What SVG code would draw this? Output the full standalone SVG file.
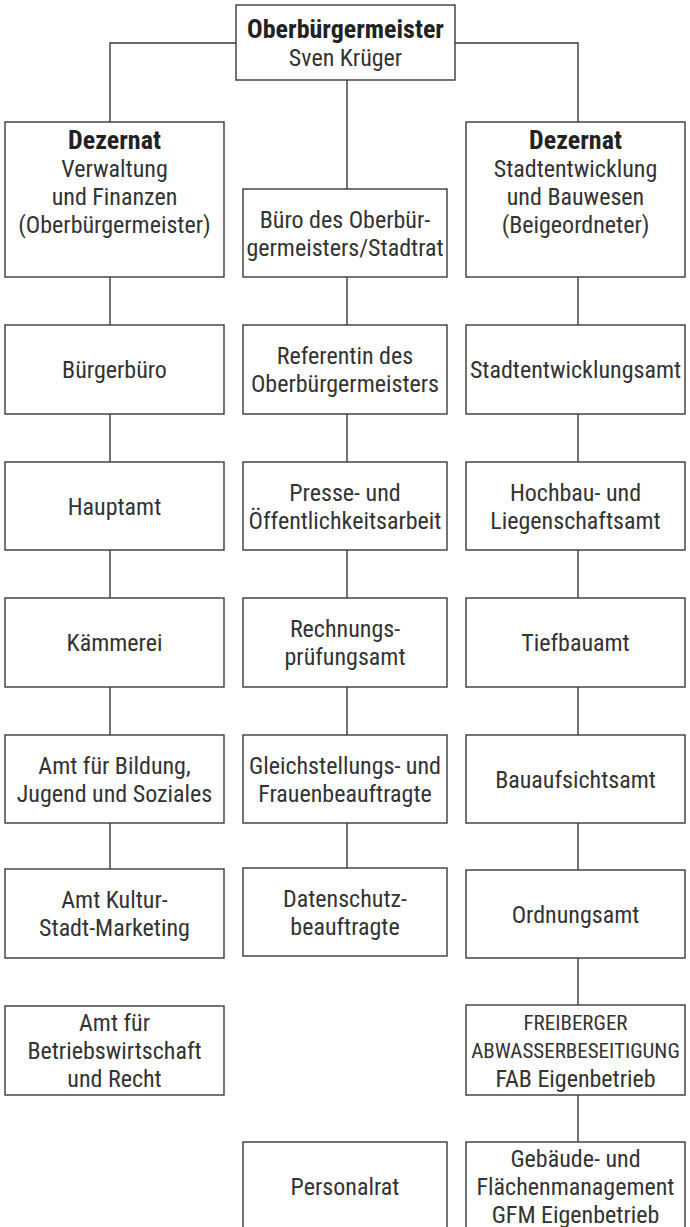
<svg xmlns="http://www.w3.org/2000/svg" width="690" height="1227" viewBox="0 0 690 1227">
<style>
.box{fill:#fff;stroke:#3a3a3a;stroke-width:1.4}
.ln{stroke:#3a3a3a;stroke-width:1.4;fill:none}
text{font-family:"Liberation Sans Narrow","Roboto Condensed","DejaVu Sans Condensed","Liberation Sans",sans-serif;font-stretch:condensed;font-size:24px;fill:#333;text-anchor:middle}
.b{font-weight:bold;font-size:26px;fill:#222}
.caps{font-size:21px}
</style>
<rect width="690" height="1227" fill="#fff"/>
<g id="connectors">
<path class="ln" d="M110,122V43H236M455,43H578V122M347,80V189"/>
<path class="ln" d="M110,277V325M110,414V462M110,550V598M110,687V735M110,823V869"/>
<path class="ln" d="M347,277V325M347,414V462M347,550V598M347,687V735M347,823V868"/>
<path class="ln" d="M578,277V325M578,414V462M578,550V598M578,687V735M578,823V870M578,958V1005M578,1095V1142"/>
</g>
<g id="ob"><rect class="box" x="236" y="5" width="219" height="75"/><text class="b" x="345.5" y="38">Oberbürgermeister</text><text x="345.5" y="66">Sven Krüger</text></g>
<g id="dez1"><rect class="box" x="5" y="122" width="219" height="155"/><text class="b" x="114.5" y="149">Dezernat</text><text x="114.5" y="177">Verwaltung</text><text x="114.5" y="205">und Finanzen</text><text x="114.5" y="233">(Oberbürgermeister)</text></g>
<g id="buero"><rect class="box" x="243" y="189" width="204" height="88"/><text x="345" y="227.5">Büro des Oberbür-</text><text x="345" y="255.5">germeisters/Stadtrat</text></g>
<g id="dez2"><rect class="box" x="466" y="122" width="219" height="155"/><text class="b" x="575.5" y="149">Dezernat</text><text x="575.5" y="177">Stadtentwicklung</text><text x="575.5" y="205">und Bauwesen</text><text x="575.5" y="233">(Beigeordneter)</text></g>
<g id="l2"><rect class="box" x="5" y="325" width="219" height="89"/><text x="114.5" y="378">Bürgerbüro</text></g>
<g id="l3"><rect class="box" x="5" y="462" width="219" height="88"/><text x="114.5" y="514.5">Hauptamt</text></g>
<g id="l4"><rect class="box" x="5" y="598" width="219" height="89"/><text x="114.5" y="651">Kämmerei</text></g>
<g id="l5"><rect class="box" x="5" y="735" width="219" height="88"/><text x="114.5" y="773.5">Amt für Bildung,</text><text x="114.5" y="801.5">Jugend und Soziales</text></g>
<g id="l6"><rect class="box" x="5" y="869" width="219" height="89"/><text x="114.5" y="908">Amt Kultur-</text><text x="114.5" y="936">Stadt-Marketing</text></g>
<g id="l7"><rect class="box" x="5" y="1006" width="219" height="89"/><text x="114.5" y="1031">Amt für</text><text x="114.5" y="1059">Betriebswirtschaft</text><text x="114.5" y="1087">und Recht</text></g>
<g id="m2"><rect class="box" x="243" y="325" width="204" height="89"/><text x="345" y="364">Referentin des</text><text x="345" y="392">Oberbürgermeisters</text></g>
<g id="m3"><rect class="box" x="243" y="462" width="204" height="88"/><text x="345" y="500.5">Presse- und</text><text x="345" y="528.5">Öffentlichkeitsarbeit</text></g>
<g id="m4"><rect class="box" x="243" y="598" width="204" height="89"/><text x="345" y="637">Rechnungs-</text><text x="345" y="665">prüfungsamt</text></g>
<g id="m5"><rect class="box" x="243" y="735" width="204" height="88"/><text x="345" y="773.5">Gleichstellungs- und</text><text x="345" y="801.5">Frauenbeauftragte</text></g>
<g id="m6"><rect class="box" x="243" y="868" width="204" height="88"/><text x="345" y="906.5">Datenschutz-</text><text x="345" y="934.5">beauftragte</text></g>
<g id="m8"><rect class="box" x="243" y="1142" width="204" height="89"/><text x="345" y="1195">Personalrat</text></g>
<g id="r2"><rect class="box" x="466" y="325" width="219" height="89"/><text x="575.5" y="378">Stadtentwicklungsamt</text></g>
<g id="r3"><rect class="box" x="466" y="462" width="219" height="88"/><text x="575.5" y="500.5">Hochbau- und</text><text x="575.5" y="528.5">Liegenschaftsamt</text></g>
<g id="r4"><rect class="box" x="466" y="598" width="219" height="89"/><text x="575.5" y="651">Tiefbauamt</text></g>
<g id="r5"><rect class="box" x="466" y="735" width="219" height="88"/><text x="575.5" y="787.5">Bauaufsichtsamt</text></g>
<g id="r6"><rect class="box" x="466" y="870" width="219" height="88"/><text x="575.5" y="922.5">Ordnungsamt</text></g>
<g id="r7"><rect class="box" x="466" y="1005" width="219" height="90"/><text class="caps" x="575.5" y="1030">FREIBERGER</text><text class="caps" x="575.5" y="1058">ABWASSERBESEITIGUNG</text><text x="575.5" y="1086.5">FAB Eigenbetrieb</text></g>
<g id="r8"><rect class="box" x="466" y="1142" width="219" height="89"/><text x="575.5" y="1167">Gebäude- und</text><text x="575.5" y="1195">Flächenmanagement</text><text x="575.5" y="1223">GFM Eigenbetrieb</text></g>
</svg>
